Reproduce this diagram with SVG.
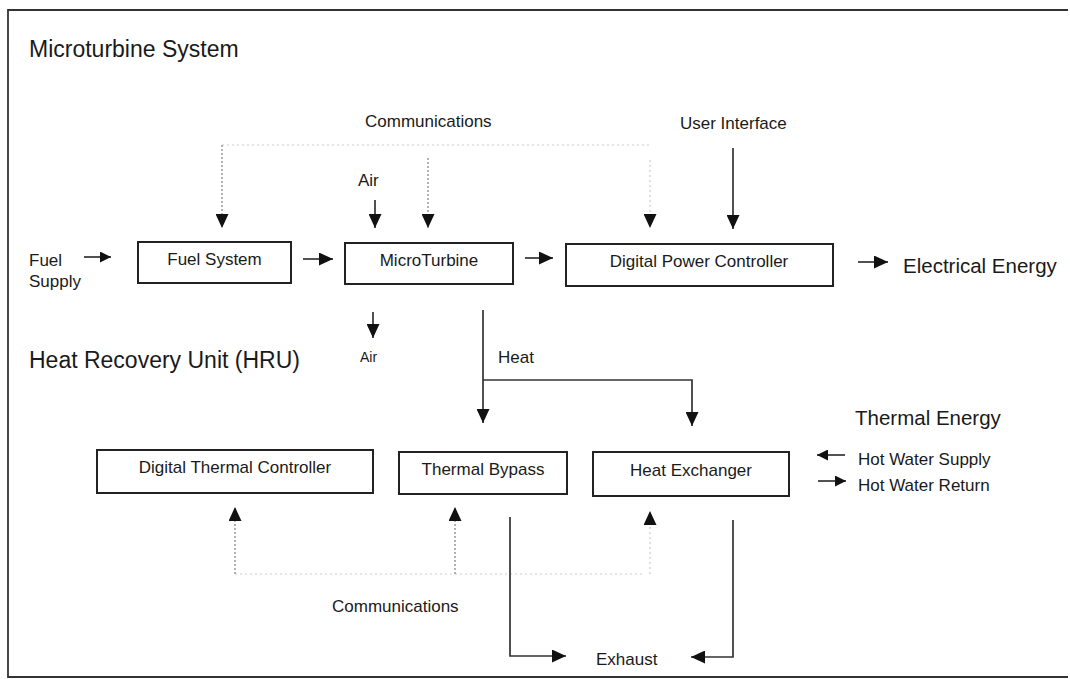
<svg xmlns="http://www.w3.org/2000/svg" width="1070" height="679" viewBox="0 0 1070 679">
<style>
  text { font-family: "Liberation Sans", Arial, sans-serif; fill: #1a1a1a; }
  .t17 { font-size: 17px; }
  .big { font-size: 23px; }
  .en { font-size: 20.5px; }
  .box { fill: #ffffff; stroke: #222222; stroke-width: 2; }
  .solid { fill: none; stroke: #333333; stroke-width: 1.7; }
  .dot { fill: none; stroke: #8a8a8a; stroke-width: 1.3; stroke-dasharray: 2 2; }
  .faint { fill: none; stroke: #cccccc; stroke-width: 1.2; stroke-dasharray: 2 3; }
  .frame { fill: none; stroke: #333333; stroke-width: 1.8; }
</style>
<defs>
  <marker id="ah" viewBox="0 0 14 13" refX="14" refY="6.5" markerWidth="14" markerHeight="13" markerUnits="userSpaceOnUse" orient="auto">
    <path d="M0,0 L14,6.5 L0,13 Z" fill="#111111"/>
  </marker>
  <marker id="ahs" viewBox="0 0 12 12" refX="12" refY="6" markerWidth="11" markerHeight="11" markerUnits="userSpaceOnUse" orient="auto">
    <path d="M0,0 L12,6 L0,12 Z" fill="#111111"/>
  </marker>
</defs>

<path class="frame" d="M1068,10 H8 V677 H1068"/>

<text class="big" x="29" y="57">Microturbine System</text>
<text class="big" x="29" y="368">Heat Recovery Unit (HRU)</text>

<g id="connectors">
  <!-- communications (top) -->
  <path class="faint" d="M222,145 H652"/>
  <path class="dot" d="M222,145 V228" marker-end="url(#ah)"/>
  <path class="dot" d="M428,158 V228" marker-end="url(#ah)"/>
  <path class="faint" d="M650,160 V228" marker-end="url(#ah)"/>
  <!-- air in -->
  <path class="solid" d="M375,200 V228" marker-end="url(#ah)"/>
  <!-- user interface -->
  <path class="solid" d="M733,148 V229" marker-end="url(#ah)"/>
  <!-- horizontal flows -->
  <path class="solid" d="M84,257 H111" marker-end="url(#ahs)"/>
  <path class="solid" d="M303,259 H333" marker-end="url(#ah)"/>
  <path class="solid" d="M525,258 H553" marker-end="url(#ah)"/>
  <path class="solid" d="M858,262 H888" marker-end="url(#ah)"/>
  <!-- air out -->
  <path class="solid" d="M373,312 V338" marker-end="url(#ah)"/>
  <!-- heat -->
  <path class="solid" d="M483,310 V423" marker-end="url(#ah)"/>
  <path class="solid" d="M483,380 H692 V426" marker-end="url(#ah)"/>
  <!-- hot water -->
  <path class="solid" d="M845,455 H817" marker-end="url(#ahs)"/>
  <path class="solid" d="M818,481 H846" marker-end="url(#ahs)"/>
  <!-- communications (bottom) -->
  <path class="faint" d="M235,574 H645"/>
  <path class="dot" d="M235,574 V507" marker-end="url(#ah)"/>
  <path class="dot" d="M455,574 V507" marker-end="url(#ah)"/>
  <path class="faint" d="M650,574 V511" marker-end="url(#ah)"/>
  <!-- exhaust -->
  <path class="solid" d="M510,517 V656 H566" marker-end="url(#ah)"/>
  <path class="solid" d="M733,520 V657 H691" marker-end="url(#ah)"/>
</g>

<g id="fuel-system">
  <rect class="box" x="138" y="242" width="153" height="41"/>
  <text class="t17" x="214.5" y="265" text-anchor="middle">Fuel System</text>
</g>
<g id="microturbine">
  <rect class="box" x="345" y="243" width="168" height="41"/>
  <text class="t17" x="429" y="266" text-anchor="middle">MicroTurbine</text>
</g>
<g id="digital-power-controller">
  <rect class="box" x="566" y="244" width="267" height="42"/>
  <text class="t17" x="699" y="267" text-anchor="middle">Digital Power Controller</text>
</g>
<g id="digital-thermal-controller">
  <rect class="box" x="97" y="450" width="276" height="43"/>
  <text class="t17" x="235" y="473" text-anchor="middle">Digital Thermal Controller</text>
</g>
<g id="thermal-bypass">
  <rect class="box" x="399" y="452" width="168" height="42"/>
  <text class="t17" x="483" y="475" text-anchor="middle">Thermal Bypass</text>
</g>
<g id="heat-exchanger">
  <rect class="box" x="593" y="452" width="196" height="44"/>
  <text class="t17" x="691" y="476" text-anchor="middle">Heat Exchanger</text>
</g>

<g id="labels">
  <text class="t17" x="365" y="127">Communications</text>
  <text class="t17" x="680" y="129">User Interface</text>
  <text class="t17" x="358" y="186">Air</text>
  <text class="t17" x="29" y="266">Fuel</text>
  <text class="t17" x="29" y="287">Supply</text>
  <text class="en" x="903" y="273">Electrical Energy</text>
  <text x="360" y="362" style="font-size:14px">Air</text>
  <text class="t17" x="498" y="363">Heat</text>
  <text class="en" x="855" y="425">Thermal Energy</text>
  <text class="t17" x="858" y="465">Hot Water Supply</text>
  <text class="t17" x="858" y="491">Hot Water Return</text>
  <text class="t17" x="332" y="612">Communications</text>
  <text class="t17" x="596" y="665">Exhaust</text>
</g>
</svg>
